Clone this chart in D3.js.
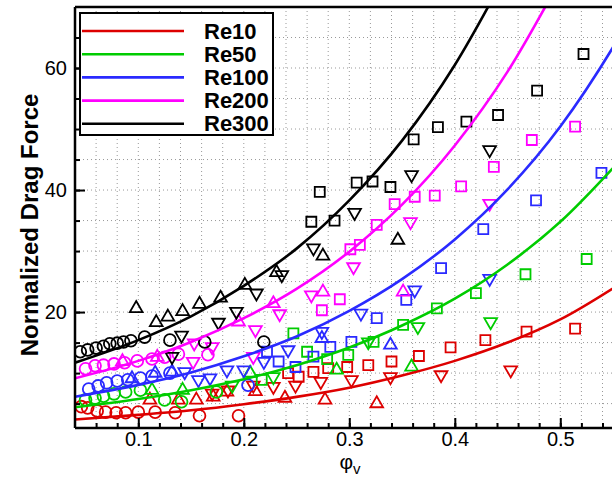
<!DOCTYPE html>
<html lang="en">
<head>
<meta charset="utf-8">
<title>Normalized drag force</title>
<script src="https://d3js.org/d3.v7.min.js"></script>
<style>
  body { margin: 0; background: #fff; }
  svg { display: block; font-family: "Liberation Sans", Arial, Helvetica, sans-serif; }
</style>
</head>
<body>
<script>
// fitted curves: [phi, force]
var re10Curve  = [[0.04,2.4],[0.1,3.15],[0.15,3.9],[0.2,4.9],[0.25,6.1],[0.3,7.6],[0.35,9.6],[0.4,12.0],[0.45,15.0],[0.5,18.8],[0.56,25.0]];
var re50Curve  = [[0.04,4.4],[0.1,5.75],[0.15,7.2],[0.2,9.0],[0.25,11.3],[0.3,14.2],[0.35,17.8],[0.4,22.2],[0.45,27.8],[0.5,34.8],[0.56,45.5]];
var re100Curve = [[0.04,6.13],[0.1,8.07],[0.15,10.1],[0.2,12.76],[0.25,16.0],[0.3,20.2],[0.35,25.4],[0.4,31.9],[0.45,40.1],[0.5,50.4],[0.55,63.4],[0.56,66.3]];
var re200Curve = [[0.04,9.15],[0.1,12.0],[0.15,15.1],[0.2,19.0],[0.25,23.8],[0.3,29.9],[0.35,37.6],[0.4,47.3],[0.45,59.4],[0.5,74.5]];
var re300Curve = [[0.04,11.7],[0.1,15.4],[0.15,19.3],[0.2,24.3],[0.25,30.4],[0.3,38.3],[0.35,48.1],[0.4,60.5],[0.45,75.9]];

// measured points
var re10Circles = [[0.046,4.5],[0.052,4.3],[0.061,3.8],[0.069,3.6],[0.079,3.5],[0.088,3.5],[0.100,3.6],[0.116,3.6],[0.135,3.5],[0.158,3.0],[0.195,3.0]];
var re10Up      = [[0.111,5.6],[0.138,5.6],[0.155,5.6],[0.171,6.1],[0.184,6.9],[0.211,7.0],[0.239,5.9],[0.277,5.6],[0.326,5.0]];
var re10Down    = [[0.170,6.7],[0.185,7.2],[0.209,8.0],[0.228,7.8],[0.249,8.0],[0.273,8.6],[0.302,8.9],[0.339,9.4],[0.387,9.7],[0.453,10.5]];
var re10Squares = [[0.242,10.0],[0.252,9.4],[0.266,10.2],[0.280,10.8],[0.298,11.0],[0.318,11.3],[0.340,11.9],[0.366,12.8],[0.396,14.2],[0.429,15.4],[0.468,16.8],[0.514,17.3]];

var re50Circles = [[0.050,5.6],[0.059,5.9],[0.067,6.2],[0.077,6.6],[0.088,6.9],[0.102,7.2],[0.125,5.6],[0.141,5.3],[0.174,6.9]];
var re50Up      = [[0.113,7.2],[0.142,7.2],[0.206,10.0],[0.288,10.5],[0.359,11.0]];
var re50Down    = [[0.189,8.0],[0.228,9.4],[0.318,15.1],[0.365,17.6],[0.434,18.4]];
var re50Squares = [[0.217,8.9],[0.247,16.5],[0.260,13.5],[0.279,12.3],[0.299,13.0],[0.323,15.1],[0.351,17.9],[0.383,20.6],[0.420,23.1],[0.467,26.2],[0.525,28.7]];

var re100Circles = [[0.053,7.4],[0.062,7.9],[0.070,8.4],[0.080,8.7],[0.090,8.9],[0.102,9.2],[0.113,9.5],[0.130,10.0],[0.204,8.0]];
var re100Up      = [[0.094,9.1],[0.116,10.0],[0.132,10.2],[0.274,15.7],[0.339,14.6]];
var re100Down    = [[0.144,10.2],[0.157,8.9],[0.168,9.2],[0.184,10.5],[0.200,10.5],[0.219,11.9],[0.242,13.8],[0.274,16.8],[0.311,19.8],[0.362,23.6],[0.433,25.5]];
var re100Squares = [[0.222,13.5],[0.233,11.9],[0.249,11.0],[0.266,12.7],[0.282,14.3],[0.302,15.1],[0.326,19.0],[0.354,22.0],[0.387,27.2],[0.427,33.6],[0.477,38.3],[0.539,42.8]];

var re200Circles = [[0.050,10.7],[0.059,11.2],[0.067,11.3],[0.077,11.5],[0.087,11.7],[0.099,12.0],[0.113,12.3],[0.125,12.6],[0.138,13.1],[0.166,13.0]];
var re200Up      = [[0.085,11.9],[0.118,12.6],[0.195,18.4],[0.228,21.4],[0.275,23.3],[0.351,23.3]];
var re200Down    = [[0.152,11.9],[0.153,14.9],[0.170,14.3],[0.209,12.7],[0.211,17.1],[0.234,19.7],[0.264,22.8],[0.304,27.4],[0.358,34.8],[0.433,37.8]];
var re200Squares = [[0.274,20.3],[0.291,22.1],[0.301,30.3],[0.310,31.0],[0.326,34.3],[0.343,37.7],[0.362,38.9],[0.381,39.1],[0.406,40.6],[0.437,43.8],[0.473,48.2],[0.514,50.4]];

var re300Circles = [[0.045,13.5],[0.052,13.8],[0.060,14.1],[0.067,14.4],[0.073,14.8],[0.080,14.9],[0.086,15.1],[0.093,15.3],[0.106,15.9],[0.130,15.4],[0.163,15.1],[0.219,15.1]];
var re300Up      = [[0.098,20.6],[0.117,18.3],[0.128,19.2],[0.142,20.1],[0.158,21.3],[0.178,22.3],[0.201,24.4],[0.231,26.5],[0.275,29.2],[0.346,31.8]];
var re300Down    = [[0.132,12.7],[0.141,16.2],[0.176,18.3],[0.193,20.1],[0.212,23.1],[0.236,26.1],[0.266,30.5],[0.305,36.3],[0.359,42.5],[0.433,46.6]];
var re300Squares = [[0.264,34.8],[0.272,39.7],[0.286,35.0],[0.307,41.2],[0.322,41.4],[0.339,40.5],[0.361,48.3],[0.384,50.3],[0.411,51.2],[0.441,52.3],[0.478,56.3],[0.522,62.3]];

var seriesNames = ["Re10", "Re50", "Re100", "Re200", "Re300"];
var seriesColors = ["#dd0000", "#00cc00", "#2a2aff", "#ff00ff", "#000000"];
var xTicks = [0.1, 0.2, 0.3, 0.4, 0.5];
var yTicks = [20, 40, 60];

var series = [
  {curve: re10Curve,  circles: re10Circles,  up: re10Up,  down: re10Down,  squares: re10Squares},
  {curve: re50Curve,  circles: re50Circles,  up: re50Up,  down: re50Down,  squares: re50Squares},
  {curve: re100Curve, circles: re100Circles, up: re100Up, down: re100Down, squares: re100Squares},
  {curve: re200Curve, circles: re200Circles, up: re200Up, down: re200Down, squares: re200Squares},
  {curve: re300Curve, circles: re300Circles, up: re300Up, down: re300Down, squares: re300Squares}
];

var W = 612, H = 477;
var padL = 75, padT = 7, padB = 428;

var x = d3.scaleLinear().domain([0.04, 0.56]).range([padL, padL + 0.52 * 1055]);
var y = d3.scaleLinear().domain([1, 70]).range([padB, padT]);

var svg = d3.select("body").append("svg").attr("width", W).attr("height", H);

svg.append("defs").append("clipPath").attr("id", "plot")
  .append("rect").attr("x", padL).attr("y", padT).attr("width", W - padL).attr("height", padB - padT);

// dotted grid, every 0.02 and every 5
var grid = svg.append("g").attr("stroke", "#999").attr("stroke-width", 1).attr("stroke-dasharray", "1,3");
grid.selectAll(".gx").data(d3.range(0.06, 0.561, 0.02)).enter().append("line")
  .attr("x1", function (d) { return x(d); }).attr("x2", function (d) { return x(d); })
  .attr("y1", padT).attr("y2", padB);
grid.selectAll(".gy").data(d3.range(5, 70, 5)).enter().append("line")
  .attr("x1", padL).attr("x2", W)
  .attr("y1", function (d) { return y(d); }).attr("y2", function (d) { return y(d); });

var plot = svg.append("g").attr("clip-path", "url(#plot)");

var symCircle = d3.symbol().type(d3.symbolCircle).size(110);
var symTri = d3.symbol().type(d3.symbolTriangle).size(70);
var symSquare = d3.symbol().type(d3.symbolSquare).size(100);

series.forEach(function (s, i) {
  var c = seriesColors[i];
  var g = plot.append("g").attr("fill", "none").attr("stroke", c).attr("stroke-width", 1.8);
  function marks(data, sym, rot) {
    g.selectAll(null).data(data).enter().append("path")
      .attr("d", sym)
      .attr("transform", function (d) {
        return "translate(" + x(d[0]) + "," + y(d[1]) + ")" + (rot ? "rotate(180)" : "");
      });
  }
  marks(s.circles, symCircle, false);
  marks(s.up, symTri, false);
  marks(s.down, symTri, true);
  marks(s.squares, symSquare, false);
});

var line = d3.line()
  .x(function (d) { return x(d[0]); })
  .y(function (d) { return y(d[1]); })
  .curve(d3.curveMonotoneX);

series.forEach(function (s, i) {
  plot.append("path").datum(s.curve)
    .attr("d", line)
    .attr("fill", "none")
    .attr("stroke", seriesColors[i])
    .attr("stroke-width", 2.6);
});

// axes with inward ticks
var yMinor = svg.append("g").attr("transform", "translate(" + padL + ",0)")
  .call(d3.axisLeft(y).tickValues(d3.range(5, 70, 5)).tickSize(-5).tickFormat(""));
var yAxis = svg.append("g").attr("transform", "translate(" + padL + ",0)")
  .call(d3.axisLeft(y).tickValues(yTicks).tickSize(-10).tickPadding(8));
var xMinor = svg.append("g").attr("transform", "translate(0," + padB + ")")
  .call(d3.axisBottom(x).tickValues(d3.range(0.06, 0.561, 0.02)).tickSize(-5).tickFormat(""));
var xAxis = svg.append("g").attr("transform", "translate(0," + padB + ")")
  .call(d3.axisBottom(x).tickValues(xTicks).tickSize(-10).tickPadding(4).tickFormat(d3.format(".1f")));

[yMinor, yAxis, xMinor, xAxis].forEach(function (a) {
  a.select(".domain").remove();
  a.selectAll(".tick line").attr("stroke", "#000").attr("stroke-width", 2);
  a.selectAll("text").attr("font-size", 20).attr("fill", "#000")
    .attr("font-family", "'Liberation Sans', Arial, sans-serif");
});

// frame
svg.append("line").attr("x1", padL).attr("x2", W).attr("y1", padT).attr("y2", padT)
  .attr("stroke", "#000").attr("stroke-width", 2.5);
svg.append("line").attr("x1", padL).attr("x2", padL).attr("y1", padT).attr("y2", padB)
  .attr("stroke", "#000").attr("stroke-width", 2.5);
svg.append("line").attr("x1", padL).attr("x2", W).attr("y1", padB).attr("y2", padB)
  .attr("stroke", "#000").attr("stroke-width", 2.5);

// axis titles
svg.append("text")
  .attr("transform", "translate(38,225)rotate(-90)")
  .attr("text-anchor", "middle")
  .attr("font-size", 24).attr("font-weight", "bold")
  .text("Normalized Drag Force");

var xt = svg.append("text").attr("x", 350).attr("y", 469).attr("text-anchor", "middle").attr("font-size", 21);
xt.append("tspan").text("φ");
xt.append("tspan").attr("font-size", 15).attr("dy", 5).text("v");

// legend
var lg = svg.append("g");
lg.append("rect").attr("x", 80).attr("y", 13).attr("width", 193).attr("height", 122)
  .attr("fill", "#fff").attr("stroke", "#000").attr("stroke-width", 2);
seriesNames.forEach(function (n, i) {
  var ly = 31 + i * 23.2;
  lg.append("line").attr("x1", 82).attr("x2", 184).attr("y1", ly).attr("y2", ly)
    .attr("stroke", seriesColors[i]).attr("stroke-width", 2.6);
  lg.append("text").attr("x", 204).attr("y", ly + 7.5)
    .attr("font-size", 22).attr("font-weight", "bold").text(n);
});
</script>
</body>
</html>
